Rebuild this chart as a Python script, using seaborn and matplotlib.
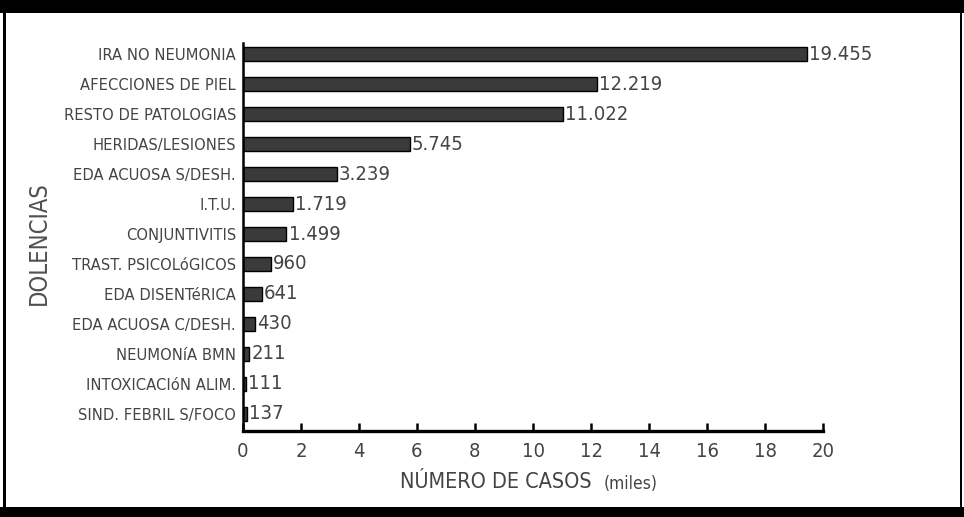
import matplotlib
matplotlib.use("Agg")
import matplotlib.pyplot as plt
from matplotlib import font_manager
from matplotlib.patches import Rectangle
import seaborn as sns
import pandas as pd

# Casos por dolencia (en miles) y los rótulos que se escriben junto a cada barra
categories = [
    "IRA NO NEUMONIA",
    "AFECCIONES DE PIEL",
    "RESTO DE PATOLOGIAS",
    "HERIDAS/LESIONES",
    "EDA ACUOSA S/DESH.",
    "I.T.U.",
    "CONJUNTIVITIS",
    "TRAST. PSICOLóGICOS",
    "EDA DISENTéRICA",
    "EDA ACUOSA C/DESH.",
    "NEUMONíA BMN",
    "INTOXICACIóN ALIM.",
    "SIND. FEBRIL S/FOCO",
]
cases_thousands = [19.455, 12.219, 11.022, 5.745, 3.239, 1.719, 1.499,
                   0.960, 0.641, 0.430, 0.211, 0.111, 0.137]
value_labels = ["19.455", "12.219", "11.022", "5.745", "3.239", "1.719", "1.499",
                "960", "641", "430", "211", "111", "137"]
x_ticks = [0, 2, 4, 6, 8, 10, 12, 14, 16, 18, 20]

sns.set_theme(style="white")
installed = {f.name for f in font_manager.fontManager.ttflist}
narrow = "Liberation Sans Narrow" if "Liberation Sans Narrow" in installed else "DejaVu Sans"
plt.rcParams["font.family"] = ["DejaVu Sans"]

df = pd.DataFrame({"dolencia": categories, "casos": cases_thousands})

fig = plt.figure(figsize=(9.64, 5.17), dpi=100)
ax = fig.add_axes([243 / 964, 1 - 431 / 517, 580 / 964, 388 / 517])

sns.barplot(data=df, x="casos", y="dolencia", orient="h", color="#3a3a3a",
            saturation=1, width=0.47, edgecolor="black", linewidth=1, ax=ax)

ax.bar_label(ax.containers[0], labels=value_labels, padding=1.5,
             fontsize=14.5, color="#444444", family=narrow, fontstretch="condensed",
             clip_on=False)

ax.set_xlim(0, 20)
ax.set_ylim(12.57, -0.37)
ax.set_xticks(x_ticks)
ax.set_xticklabels([str(t) for t in x_ticks], family=narrow, fontstretch="condensed",
                   fontsize=14.5, color="#444444")
ax.tick_params(axis="x", bottom=True, direction="in", length=6, width=1.8,
               color="black", pad=8)
ax.tick_params(axis="y", left=False, length=0, pad=5, labelsize=10.6,
               labelcolor="#444444")

for side in ("top", "right"):
    ax.spines[side].set_visible(False)
for side in ("left", "bottom"):
    ax.spines[side].set_color("black")
ax.spines["left"].set_linewidth(1.8)
ax.spines["bottom"].set_linewidth(2.4)

ax.set_ylabel("DOLENCIAS", family=narrow, fontstretch="condensed", fontsize=17,
              color="#505050", labelpad=0)
ax.yaxis.set_label_coords(-(243 - 51) / 580, (431 - 243) / 388)
ax.set_xlabel("")
fig.text(400 / 964, 1 - 482 / 517, "NÚMERO DE CASOS", family=narrow,
         fontstretch="condensed", fontsize=15.5, color="#444444", va="center", ha="left")
fig.text(604 / 964, 1 - 484 / 517, "(miles)", family=narrow,
         fontstretch="condensed", fontsize=12.5, color="#444444", va="center", ha="left")

# Marco negro del recuadro
frame = [
    (0, 1 - 13 / 517, 1, 13 / 517),
    (0, 0, 1, 10 / 517),
    (3 / 964, 0, 2.5 / 964, 1),
    (959.5 / 964, 0, 2.5 / 964, 1),
]
for x0, y0, w, h in frame:
    fig.patches.append(Rectangle((x0, y0), w, h, transform=fig.transFigure,
                                 facecolor="black", edgecolor="none"))

fig.savefig("out.png", dpi=100, facecolor="white")
